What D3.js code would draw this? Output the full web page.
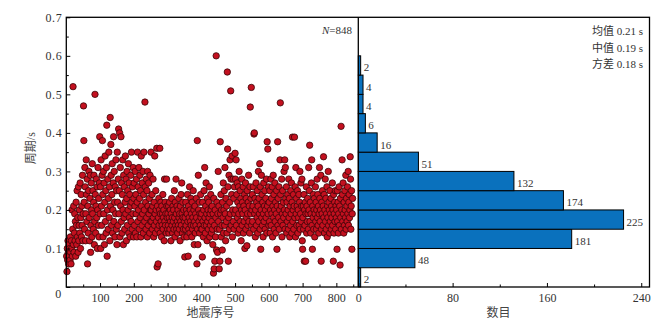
<!DOCTYPE html>
<html>
<head>
<meta charset="utf-8">
<script src="https://cdn.jsdelivr.net/npm/d3@7/dist/d3.min.js"></script>
<style>
  html, body { margin: 0; padding: 0; background: #fff; }
  svg { display: block; }
  .tick text { font-family: "Liberation Serif", serif; font-size: 12px; fill: #333; }
  .domain { display: none; }
  .tick line { stroke: #000; stroke-width: 1; }
</style>
</head>
<body>
<svg id="chart" width="672" height="327"></svg>
<script>
// Period (s) of each earthquake, in sequence order 1..848
const periods = [
  // 1-50
  0.08,0.04,0.1,0.07,0.12,0.09,0.06,0.11,0.08,0.1,
  0.07,0.13,0.09,0.06,0.12,0.1,0.2,0.08,0.15,0.52,
  0.11,0.21,0.09,0.14,0.19,0.12,0.17,0.08,0.22,0.16,
  0.11,0.25,0.13,0.18,0.09,0.26,0.12,0.16,0.2,0.14,
  0.27,0.1,0.18,0.24,0.13,0.21,0.16,0.29,0.12,0.19,
  // 51-100
  0.47,0.38,0.22,0.15,0.31,0.26,0.12,0.19,0.33,0.24,
  0.17,0.28,0.06,0.21,0.14,0.25,0.3,0.18,0.12,0.23,
  0.29,0.09,0.16,0.27,0.2,0.13,0.32,0.19,0.25,0.15,
  0.22,0.29,0.11,0.17,0.5,0.24,0.14,0.21,0.28,0.18,
  0.26,0.1,0.2,0.31,0.16,0.23,0.13,0.27,0.39,0.19,
  // 101-150
  0.26,0.1,0.33,0.21,0.16,0.29,0.38,0.24,0.13,0.3,
  0.19,0.27,0.11,0.22,0.34,0.17,0.25,0.14,0.31,0.42,
  0.08,0.2,0.28,0.15,0.23,0.35,0.18,0.26,0.12,0.44,
  0.21,0.37,0.29,0.16,0.24,0.32,0.14,0.2,0.27,0.39,
  0.17,0.3,0.22,0.13,0.26,0.19,0.33,0.15,0.25,0.11,
  // 151-200
  0.35,0.22,0.16,0.28,0.41,0.19,0.25,0.4,0.13,0.31,
  0.21,0.39,0.17,0.27,0.14,0.24,0.33,0.2,0.11,0.29,
  0.18,0.26,0.15,0.22,0.34,0.19,0.28,0.12,0.23,0.3,
  0.16,0.25,0.2,0.32,0.14,0.27,0.18,0.24,0.13,0.21,
  0.29,0.17,0.35,0.22,0.15,0.26,0.19,0.31,0.13,0.23,
  // 201-250
  0.27,0.16,0.21,0.3,0.14,0.24,0.19,0.28,0.13,0.22,
  0.35,0.17,0.26,0.2,0.31,0.15,0.23,0.29,0.18,0.25,
  0.13,0.34,0.21,0.16,0.27,0.19,0.3,0.14,0.24,0.35,
  0.2,0.17,0.48,0.26,0.22,0.15,0.28,0.18,0.25,0.13,
  0.3,0.21,0.16,0.27,0.19,0.23,0.14,0.29,0.2,0.17,
  // 251-300
  0.35,0.2,0.17,0.24,0.15,0.21,0.28,0.18,0.13,0.22,
  0.16,0.34,0.19,0.14,0.25,0.2,0.17,0.36,0.052,0.21,
  0.15,0.06,0.18,0.23,0.16,0.2,0.36,0.14,0.19,0.22,
  0.17,0.13,0.21,0.16,0.19,0.24,0.15,0.18,0.2,0.12,
  0.28,0.17,0.22,0.16,0.19,0.14,0.28,0.21,0.18,0.15,
  // 301-350
  0.19,0.16,0.21,0.14,0.18,0.22,0.15,0.2,0.17,0.12,
  0.19,0.23,0.16,0.18,0.14,0.21,0.17,0.2,0.15,0.25,
  0.18,0.13,0.22,0.16,0.28,0.19,0.15,0.21,0.17,0.14,
  0.2,0.16,0.23,0.18,0.15,0.19,0.12,0.21,0.17,0.24,
  0.16,0.27,0.19,0.14,0.22,0.18,0.15,0.2,0.13,0.17,
  // 351-400
  0.078,0.18,0.15,0.22,0.16,0.2,0.13,0.19,0.24,0.17,
  0.08,0.21,0.15,0.18,0.26,0.14,0.2,0.17,0.23,0.16,
  0.19,0.13,0.22,0.15,0.18,0.25,0.16,0.2,0.11,0.17,
  0.21,0.14,0.19,0.16,0.23,0.18,0.06,0.38,0.15,0.11,
  0.29,0.2,0.17,0.22,0.14,0.19,0.16,0.24,0.18,0.15,
  // 401-450
  0.19,0.15,0.078,0.22,0.17,0.13,0.2,0.25,0.16,0.31,
  0.18,0.14,0.21,0.27,0.16,0.19,0.12,0.23,0.17,0.2,
  0.15,0.22,0.18,0.26,0.13,0.19,0.16,0.24,0.2,0.14,
  0.17,0.21,0.15,0.11,0.19,0.036,0.23,0.047,0.16,0.067,
  0.2,0.13,0.18,0.6,0.096,0.22,0.15,0.09,0.19,0.3,
  // 451-500
  0.17,0.21,0.047,0.15,0.067,0.377,0.19,0.24,0.13,0.2,
  0.16,0.096,0.22,0.18,0.27,0.14,0.2,0.25,0.16,0.31,
  0.19,0.12,0.23,0.17,0.21,0.14,0.558,0.358,0.26,0.067,
  0.18,0.29,0.15,0.22,0.33,0.19,0.509,0.28,0.16,0.24,
  0.34,0.13,0.2,0.28,0.17,0.23,0.15,0.26,0.19,0.347,
  // 501-550
  0.28,0.2,0.33,0.16,0.24,0.27,0.18,0.22,0.14,0.26,
  0.19,0.3,0.15,0.21,0.25,0.17,0.23,0.12,0.2,0.28,
  0.16,0.22,0.19,0.26,0.14,0.21,0.17,0.24,0.1,0.2,
  0.27,0.15,0.23,0.18,0.107,0.25,0.19,0.16,0.22,0.29,
  0.17,0.21,0.14,0.26,0.467,0.19,0.23,0.518,0.16,0.2,
  // 551-600
  0.24,0.17,0.21,0.26,0.15,0.397,0.4,0.19,0.23,0.13,
  0.2,0.27,0.16,0.22,0.18,0.25,0.14,0.21,0.3,0.17,
  0.23,0.19,0.32,0.15,0.26,0.098,0.2,0.29,0.18,0.24,
  0.16,0.22,0.13,0.19,0.27,0.17,0.21,0.25,0.15,0.2,
  0.23,0.18,0.28,0.14,0.377,0.21,0.358,0.19,0.26,0.16,
  // 601-650
  0.22,0.17,0.25,0.14,0.2,0.28,0.16,0.23,0.19,0.26,
  0.13,0.21,0.29,0.18,0.24,0.15,0.2,0.27,0.17,0.22,
  0.14,0.19,0.25,0.098,0.21,0.377,0.16,0.23,0.18,0.26,
  0.15,0.2,0.33,0.478,0.24,0.17,0.21,0.28,0.13,0.19,
  0.25,0.16,0.22,0.18,0.3,0.2,0.33,0.15,0.31,0.23,
  // 651-700
  0.19,0.26,0.14,0.22,0.17,0.24,0.2,0.15,0.28,0.18,
  0.23,0.13,0.21,0.16,0.25,0.19,0.27,0.14,0.22,0.389,
  0.17,0.2,0.24,0.15,0.21,0.389,0.18,0.26,0.13,0.31,
  0.19,0.23,0.16,0.21,0.25,0.14,0.2,0.18,0.24,0.16,
  0.22,0.3,0.15,0.19,0.27,0.17,0.21,0.28,0.12,0.098,
  // 701-750
  0.18,0.21,0.15,0.24,0.067,0.2,0.16,0.22,0.067,0.19,
  0.26,0.14,0.21,0.17,0.23,0.19,0.15,0.31,0.2,0.25,
  0.368,0.17,0.22,0.14,0.19,0.27,0.33,0.16,0.098,0.21,
  0.18,0.24,0.15,0.2,0.23,0.13,0.19,0.26,0.17,0.22,
  0.15,0.2,0.28,0.18,0.24,0.16,0.21,0.14,0.19,0.31,
  // 751-800
  0.23,0.17,0.2,0.29,0.067,0.15,0.22,0.19,0.25,0.16,
  0.21,0.338,0.18,0.24,0.14,0.2,0.28,0.17,0.23,0.15,
  0.19,0.26,0.13,0.21,0.18,0.3,0.16,0.22,0.2,0.14,
  0.25,0.17,0.19,0.23,0.15,0.21,0.18,0.27,0.16,0.2,
  0.067,0.24,0.14,0.19,0.22,0.17,0.25,0.15,0.21,0.18,
  // 801-848
  0.2,0.098,0.25,0.17,0.22,0.14,0.19,0.26,0.16,0.21,
  0.057,0.23,0.18,0.417,0.15,0.2,0.33,0.24,0.17,0.27,
  0.19,0.14,0.22,0.16,0.25,0.2,0.18,0.29,0.15,0.23,
  0.21,0.17,0.26,0.19,0.3,0.16,0.22,0.24,0.18,0.2,
  0.338,0.28,0.15,0.21,0.25,0.098,0.19,0.23
];

// Histogram of periods: lower edge of each 0.05 s bin and its count
const binStarts = [0, 0.05, 0.10, 0.15, 0.20, 0.25, 0.30, 0.35, 0.40, 0.45, 0.50, 0.55];
const binCounts = [2, 48, 181, 225, 174, 132, 51, 16, 6, 4, 4, 2];
const binWidth = 0.05;

// Axis ticks and labels
const periodTicks = [0, 0.1, 0.2, 0.3, 0.4, 0.5, 0.6, 0.7];
const periodMinorTicks = [0.05, 0.15, 0.25, 0.35, 0.45, 0.55, 0.65];
const indexTicks = [100, 200, 300, 400, 500, 600, 700, 800];
const indexMinorTicks = [50, 150, 250, 350, 450, 550, 650, 750, 850];
const countTicks = [0, 80, 160, 240];
const countMinorTicks = [40, 120, 200];
const statLines = ["均值 0.21 s", "中值 0.19 s", "方差 0.18 s"];
const totalLabel = "848";

const svg = d3.select("#chart");

const plotLeft = 66.3, plotMid = 358.3, plotRight = 649.5, plotTop = 17.3, plotBottom = 287;

const x = d3.scaleLinear().domain([0, 865]).range([plotLeft, plotMid]);
const y = d3.scaleLinear().domain([0, 0.7]).range([plotBottom, plotTop]);
const h = d3.scaleLinear().domain([0, 247]).range([plotMid, plotRight]);

// ---- histogram bars ----
const bars = binStarts.map((s, i) => ({ start: s, count: binCounts[i] }));
svg.append("g").selectAll("rect").data(bars).join("rect")
  .attr("x", h(0))
  .attr("y", d => y(d.start + binWidth))
  .attr("width", d => h(d.count) - h(0))
  .attr("height", d => y(d.start) - y(d.start + binWidth))
  .attr("fill", "#0a71bd")
  .attr("stroke", "#000")
  .attr("stroke-width", 1);

svg.append("g").selectAll("text").data(bars).join("text")
  .attr("x", d => h(d.count) + 3)
  .attr("y", d => (y(d.start) + y(d.start + binWidth)) / 2 + 6)
  .attr("font-family", "Liberation Serif, serif")
  .attr("font-size", 11)
  .attr("fill", "#333")
  .text(d => d.count);

// ---- scatter of periods ----
svg.append("g").selectAll("circle").data(periods).join("circle")
  .attr("cx", (d, i) => x(i + 1))
  .attr("cy", d => y(d))
  .attr("r", 3.2)
  .attr("fill", "#c3101f")
  .attr("stroke", "#3a0508")
  .attr("stroke-width", 0.8);

// ---- axes ----
const yAxis = svg.append("g").attr("transform", `translate(${plotLeft},0)`)
  .call(d3.axisLeft(y).tickValues(periodTicks).tickSize(-4).tickPadding(4)
    .tickFormat(d => d === 0 ? "0" : d3.format(".1f")(d)));
yAxis.selectAll(".tick").filter(d => d === 0).select("text").attr("dy", "0.85em").attr("dx", "-1");
yAxis.selectAll(".tick text").filter(d => d !== 0).attr("letter-spacing", "0.6");

svg.append("g").attr("transform", `translate(${plotLeft},0)`)
  .call(d3.axisLeft(y).tickValues(periodMinorTicks).tickSize(-2.5).tickFormat(""));

svg.append("g").attr("transform", `translate(0,${plotBottom})`)
  .call(d3.axisBottom(x).tickValues(indexTicks).tickSize(-4).tickPadding(6.5));
svg.append("g").attr("transform", `translate(0,${plotBottom})`)
  .call(d3.axisBottom(x).tickValues(indexMinorTicks).tickSize(-2.5).tickFormat(""));

svg.append("g").attr("transform", `translate(0,${plotBottom})`)
  .call(d3.axisBottom(h).tickValues(countTicks).tickSize(-4).tickPadding(6.5));
svg.append("g").attr("transform", `translate(0,${plotBottom})`)
  .call(d3.axisBottom(h).tickValues(countMinorTicks).tickSize(-2.5).tickFormat(""));

// ---- frame ----
const frame = svg.append("g").attr("stroke", "#000").attr("stroke-width", 1.3).attr("fill", "none");
frame.append("rect").attr("x", plotLeft).attr("y", plotTop)
  .attr("width", plotRight - plotLeft).attr("height", plotBottom - plotTop);
frame.append("line").attr("x1", plotMid).attr("x2", plotMid).attr("y1", plotTop).attr("y2", plotBottom);

// ---- axis titles ----
const cjk = "Liberation Serif, Noto Sans CJK SC, sans-serif";
svg.append("text")
  .attr("transform", `translate(31,${(plotTop + plotBottom) / 2 - 4}) rotate(-90)`)
  .attr("text-anchor", "middle").attr("dominant-baseline", "central")
  .attr("font-family", cjk).attr("font-size", 12).attr("fill", "#444")
  .text("周期/s");
svg.append("text").attr("x", 210.5).attr("y", 317)
  .attr("text-anchor", "middle").attr("font-family", cjk).attr("font-size", 12).attr("fill", "#444")
  .text("地震序号");
svg.append("text").attr("x", 498.5).attr("y", 317)
  .attr("text-anchor", "middle").attr("font-family", cjk).attr("font-size", 12).attr("fill", "#444")
  .text("数目");

// ---- annotations ----
const nText = svg.append("text").attr("x", 352).attr("y", 34)
  .attr("text-anchor", "end").attr("font-family", "Liberation Serif, serif")
  .attr("font-size", 11).attr("fill", "#333");
nText.append("tspan").attr("font-style", "italic").text("N");
nText.append("tspan").text("=" + totalLabel);

svg.append("g").selectAll("text").data(statLines).join("text")
  .attr("x", 643).attr("y", (d, i) => 35 + i * 16.5)
  .attr("text-anchor", "end").attr("font-family", cjk).attr("font-size", 11).attr("fill", "#333")
  .text(d => d);
</script>
</body>
</html>
